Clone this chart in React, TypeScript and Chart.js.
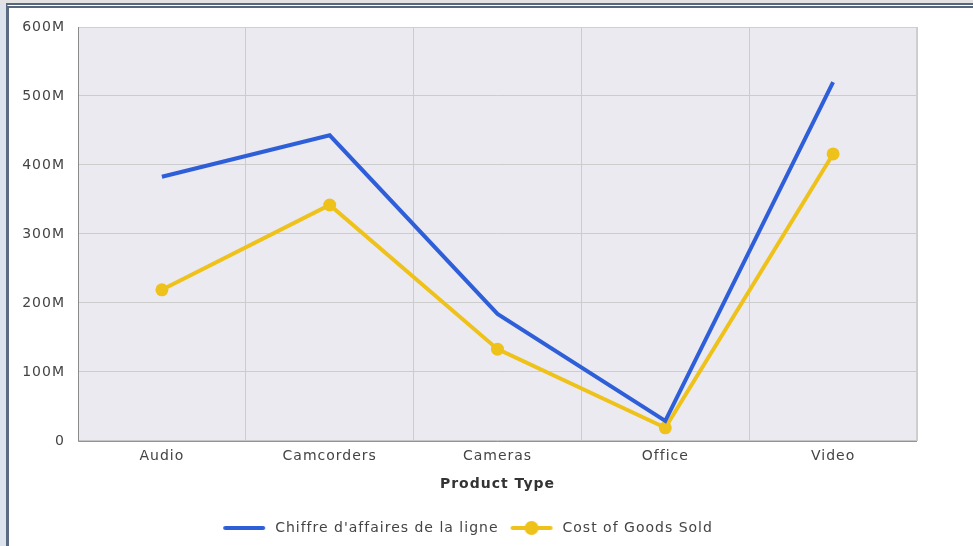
import React, { useEffect, useRef } from "react";
import { Chart, registerables } from "chart.js";

Chart.register(...registerables);

const categories = ["Audio", "Camcorders", "Cameras", "Office", "Video"];
const revenue = [383e6, 443e6, 184e6, 29e6, 520e6];
const cogs = [219e6, 342e6, 133e6, 19e6, 416e6];
const seriesNames = ["Chiffre d'affaires de la ligne", "Cost of Goods Sold"];
const xTitle = "Product Type";

const BLUE = "#2f5fd8";
const YELLOW = "#efc21b";
const FONT = "'DejaVu Sans', sans-serif";

function legendImage(color: string, dot: boolean) {
  const c = document.createElement("canvas");
  c.width = 47;
  c.height = 16;
  const g = c.getContext("2d")!;
  g.strokeStyle = color;
  g.lineWidth = 4;
  g.lineCap = "round";
  g.beginPath();
  g.moveTo(4, 8);
  g.lineTo(42, 8);
  g.stroke();
  if (dot) {
    g.fillStyle = color;
    g.beginPath();
    g.arc(23, 8, 7, 0, Math.PI * 2);
    g.fill();
  }
  return c;
}

const spacing = {
  id: "spacing",
  beforeInit(chart: any) {
    chart.ctx.letterSpacing = "1px";
  },
  beforeUpdate(chart: any) {
    chart.ctx.letterSpacing = "1px";
  },
  beforeLayout(chart: any) {
    chart.ctx.letterSpacing = "1px";
  },
  beforeDraw(chart: any) {
    chart.ctx.letterSpacing = "1px";
  },
};

const plotBg = {
  id: "plotBg",
  beforeDraw(chart: any) {
    const { ctx, chartArea: a } = chart;
    ctx.save();
    ctx.fillStyle = "#eaeaf0";
    ctx.fillRect(a.left, a.top, a.right - a.left, a.bottom - a.top);
    ctx.restore();
  },
  beforeDatasetsDraw(chart: any) {
    const { ctx, chartArea: a } = chart;
    ctx.save();
    ctx.strokeStyle = "#cfcfcf";
    ctx.lineWidth = 1;
    ctx.strokeRect(a.left + 0.5, a.top + 0.5, a.right - a.left - 1, a.bottom - a.top);
    ctx.strokeStyle = "#8a8a8a";
    ctx.beginPath();
    ctx.moveTo(a.left + 0.5, a.top);
    ctx.lineTo(a.left + 0.5, a.bottom + 0.5);
    ctx.lineTo(a.right, a.bottom + 0.5);
    ctx.stroke();
    ctx.restore();
  },
};

export default function App() {
  const ref = useRef<HTMLCanvasElement>(null);
  useEffect(() => {
    const imgs = [legendImage(BLUE, false), legendImage(YELLOW, true)];
    const chart = new Chart(ref.current!, {
      type: "line",
      data: {
        labels: categories,
        datasets: [
          {
            label: seriesNames[0],
            data: revenue,
            borderColor: BLUE,
            backgroundColor: BLUE,
            borderWidth: 4,
            pointRadius: 0,
            pointHoverRadius: 0,
            tension: 0,
          },
          {
            label: seriesNames[1],
            data: cogs,
            borderColor: YELLOW,
            backgroundColor: YELLOW,
            borderWidth: 4,
            pointRadius: 6.5,
            pointBorderWidth: 0,
            tension: 0,
          },
        ],
      },
      plugins: [spacing, plotBg],
      options: {
        animation: false,
        responsive: false,
        layout: { padding: { left: 8, right: 56, top: 19, bottom: 1 } },
        plugins: {
          tooltip: { enabled: false },
          legend: {
            position: "bottom",
            labels: {
              font: { family: FONT, size: 14 },
              color: "#444",
              usePointStyle: true,
              pointStyleWidth: 47,
              padding: 10,
              generateLabels: () =>
                seriesNames.map((n, i) => ({
                  text: n,
                  pointStyle: imgs[i] as any,
                  fillStyle: "transparent",
                  strokeStyle: "transparent",
                  lineWidth: 0,
                  datasetIndex: i,
                  fontColor: "#444",
                })),
            },
          },
        },
        scales: {
          x: {
            offset: true,
            grid: { offset: true, color: "#cccccc", drawTicks: false },
            border: { display: false },
            ticks: { font: { family: FONT, size: 14 }, color: "#444", padding: 7 },
            title: {
              display: true,
              text: xTitle,
              font: { family: FONT, size: 14, weight: "bold" },
              color: "#333",
              padding: { top: 4, bottom: 18.5 },
            },
          },
          y: {
            min: 0,
            max: 600e6,
            afterFit: (s: any) => {
              s.width = 61;
              s.paddingTop = 0;
              s.paddingBottom = 0;
            },
            grid: { color: "#cccccc", drawTicks: false },
            border: { display: false },
            ticks: {
              stepSize: 100e6,
              padding: 13,
              font: { family: FONT, size: 14 },
              color: "#444",
              callback: (v: any) => (v === 0 ? "0" : v / 1e6 + "M"),
            },
          },
        },
      },
    });
    return () => chart.destroy();
  }, []);
  return (
    <div
      style={{
        position: "fixed",
        left: 0,
        top: 0,
        width: 973,
        height: 546,
        background: "#dde3ec",
        overflow: "hidden",
      }}
    >
      <div style={{ position: "absolute", left: 0, top: 0, width: 973, height: 3, background: "#e3e3e3" }} />
      <div
        style={{
          position: "absolute",
          left: 6,
          top: 3,
          width: 967,
          height: 543,
          boxSizing: "border-box",
          borderLeft: "3px solid #5d6b80",
          borderTop: "5px double #56667e",
          background: "#fff",
        }}
      >
        <canvas ref={ref} width={964} height={538} style={{ display: "block" }} />
      </div>
    </div>
  );
}
